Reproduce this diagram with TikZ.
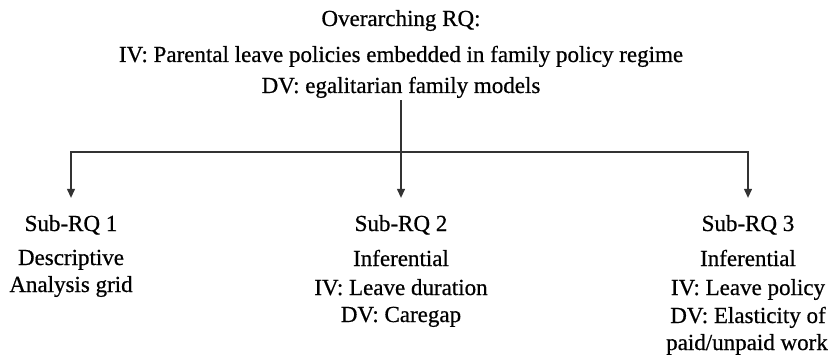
\documentclass[tikz,border=0pt]{standalone}
\usepackage{fontspec}
\setmainfont[FakeBold=0.6,BoldFont={Liberation Serif}]{Liberation Serif}
\usetikzlibrary{arrows.meta}
\begin{document}
\begin{tikzpicture}[x=1pt,y=-1pt,
  txt/.style={anchor=base,inner sep=0pt,font=\fontsize{23}{28}\selectfont,text=black},
  conn/.style={line width=1.2pt,draw=black!80},
  arr/.style={conn,-{Triangle[width=8pt,length=9pt]},shorten >=17pt}]
\useasboundingbox (0,0) rectangle (834,355);
% overarching question
\node[txt] (ov)  at (401,26) {Overarching RQ:};
\node[txt] (oiv) at (401,62) {IV: Parental leave policies embedded in family policy regime};
\node[txt] (odv) at (401,93) {DV: egalitarian family models};
% column 1
\node[txt] (s1)  at (71,231) {Sub-RQ 1};
\node[txt] (s1a) at (71,265) {Descriptive};
\node[txt] (s1b) at (71,292) {Analysis grid};
% column 2
\node[txt] (s2)  at (401,231) {Sub-RQ 2};
\node[txt] (s2a) at (401,266) {Inferential};
\node[txt] (s2b) at (401,295) {IV: Leave duration};
\node[txt] (s2c) at (401,322) {DV: Caregap};
% column 3
\node[txt] (s3)  at (748,231) {Sub-RQ 3};
\node[txt] (s3a) at (748,266) {Inferential};
\node[txt] (s3b) at (748,295) {IV: Leave policy};
\node[txt] (s3c) at (748,323) {DV: Elasticity of};
\node[txt] (s3d) at (747,350) {paid/unpaid work};
% connectors
\coordinate (j) at (401,152);
\draw[conn] ([yshift=-2pt]odv.south) -- (j);
\draw[arr] (j) -- (s2.north);
\draw[arr] (j) -| (s1.north);
\draw[arr] (j) -| (s3.north);
\end{tikzpicture}
\end{document}
